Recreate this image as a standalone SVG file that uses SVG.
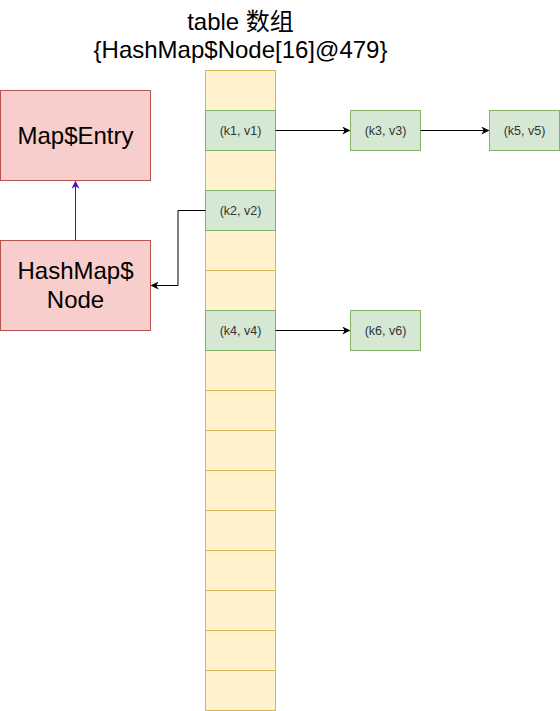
<svg xmlns="http://www.w3.org/2000/svg" width="560" height="711" viewBox="0 0 560 711">
<defs>
<style>
.cell{fill:#fff2cc;stroke:#d6b656;stroke-width:1}
.g{fill:#d5e8d4;stroke:#82b366;stroke-width:1}
.r{fill:#f8cecc;stroke:#b85450;stroke-width:1}
.big{font-family:"Liberation Sans",Arial,sans-serif;font-size:24px;fill:#000;text-anchor:middle}
.sm{font-family:"Liberation Sans",Arial,sans-serif;font-size:12.5px;fill:#333;text-anchor:middle}
.ln{fill:none;stroke:#000;stroke-width:1}
</style>
<marker id="ah" viewBox="0 0 10 10" refX="9" refY="5" markerWidth="8" markerHeight="8" orient="auto" markerUnits="userSpaceOnUse">
<path d="M0,0 L10,5 L0,10 L3,5 Z" fill="#000"/>
</marker>
<marker id="ahp" viewBox="0 0 10 10" refX="9" refY="5" markerWidth="8" markerHeight="8" orient="auto" markerUnits="userSpaceOnUse">
<path d="M0,0 L10,5 L0,10 L3,5 Z" fill="#6600cc"/>
</marker>
</defs>
<rect width="560" height="711" fill="#fff"/>
<g id="title">
<text class="big" x="240.5" y="30">table <tspan font-family="'Noto Sans CJK SC',sans-serif">数组</tspan></text>
<text class="big" x="240.5" y="58">{HashMap$Node[16]@479}</text>
</g>
<g id="table">
<rect class="cell" x="205.5" y="70.5" width="70" height="40"/>
<rect class="cell" x="205.5" y="150.5" width="70" height="40"/>
<rect class="cell" x="205.5" y="230.5" width="70" height="40"/>
<rect class="cell" x="205.5" y="270.5" width="70" height="40"/>
<rect class="cell" x="205.5" y="350.5" width="70" height="40"/>
<rect class="cell" x="205.5" y="390.5" width="70" height="40"/>
<rect class="cell" x="205.5" y="430.5" width="70" height="40"/>
<rect class="cell" x="205.5" y="470.5" width="70" height="40"/>
<rect class="cell" x="205.5" y="510.5" width="70" height="40"/>
<rect class="cell" x="205.5" y="550.5" width="70" height="40"/>
<rect class="cell" x="205.5" y="590.5" width="70" height="40"/>
<rect class="cell" x="205.5" y="630.5" width="70" height="40"/>
<rect class="cell" x="205.5" y="670.5" width="70" height="40"/>
</g>
<g id="k1v1"><rect class="g" x="205.5" y="110.5" width="70" height="40"/><text class="sm" x="240.5" y="134.5">(k1, v1)</text></g>
<g id="k2v2"><rect class="g" x="205.5" y="190.5" width="70" height="40"/><text class="sm" x="240.5" y="214.5">(k2, v2)</text></g>
<g id="k4v4"><rect class="g" x="205.5" y="310.5" width="70" height="40"/><text class="sm" x="240.5" y="334.5">(k4, v4)</text></g>
<g id="k3v3"><rect class="g" x="350.5" y="110.5" width="70" height="40"/><text class="sm" x="385.5" y="134.5">(k3, v3)</text></g>
<g id="k5v5"><rect class="g" x="489.5" y="110.5" width="70" height="40"/><text class="sm" x="524.5" y="134.5">(k5, v5)</text></g>
<g id="k6v6"><rect class="g" x="350.5" y="310.5" width="70" height="40"/><text class="sm" x="385.5" y="334.5">(k6, v6)</text></g>
<g id="mapentry"><rect class="r" x="0.5" y="90.5" width="150" height="90"/><text class="big" x="75.5" y="144">Map$Entry</text></g>
<g id="hashmapnode"><rect class="r" x="0.5" y="240.5" width="150" height="90"/><text class="big" x="75.5" y="279">HashMap$</text><text class="big" x="75.5" y="308">Node</text></g>
<g id="connectors">
<path class="ln" d="M275.5,130.5 H349.5" marker-end="url(#ah)"/>
<path class="ln" d="M420.5,130.5 H488.5" marker-end="url(#ah)"/>
<path class="ln" d="M275.5,330.5 H349.5" marker-end="url(#ah)"/>
<path class="ln" d="M205.5,210.5 H178 V285.5 H151.5" marker-end="url(#ah)"/>
<path d="M75.5,240.5 V181.5" fill="none" stroke="#6600cc" stroke-width="1" marker-end="url(#ahp)"/>
</g>
</svg>
